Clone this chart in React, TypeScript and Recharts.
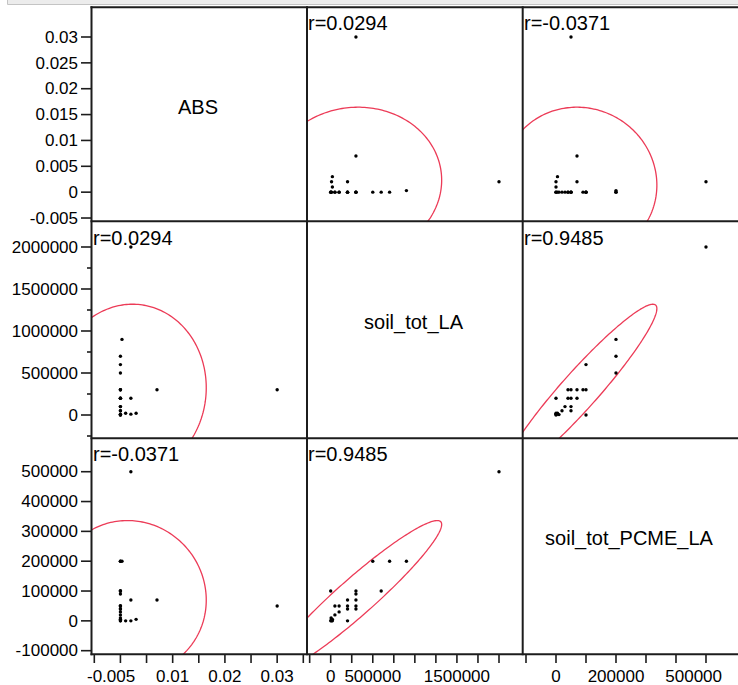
import React from 'react';
import { ScatterChart, Scatter, XAxis, YAxis } from 'recharts';

// ---------- data ----------
const VAR_NAMES = ['ABS', 'soil_tot_LA', 'soil_tot_PCME_LA'];

const ABS = [0.002, 0.0003, 0, 0, 0, 0, 0, 0, 0.007, 0.03, 0, 0.002, 0, 0, 0, 0, 0, 0, 0, 0.001, 0.002, 0.003, 0, 0, 0];
const SOIL_TOT_LA = [2000000, 900000, 700000, 500000, 600000, 0, 300000, 300000, 300000, 300000, 300000, 200000, 200000, 200000, 200000, 100000, 50000, 100000, 50000, 20000, 10000, 20000, 0, 10000, 5000];
const SOIL_TOT_PCME_LA = [500000, 200000, 200000, 200000, 100000, 100000, 100000, 90000, 70000, 50000, 40000, 70000, 50000, 40000, 0, 50000, 50000, 30000, 20000, 0, 0, 5000, 0, 5000, 10000];

const R_ABS_LA = 0.0294;
const R_ABS_PCME = -0.0371;
const R_LA_PCME = 0.9485;

const ABS_Y_TICKS = [-0.005, 0, 0.005, 0.01, 0.015, 0.02, 0.025, 0.03];
const ABS_Y_LABELS = [-0.005, 0, 0.005, 0.01, 0.015, 0.02, 0.025, 0.03];
const ABS_X_TICKS = [-0.005, 0, 0.005, 0.01, 0.015, 0.02, 0.025, 0.03, 0.035];
const ABS_X_LABELS = [-0.005, 0.01, 0.02, 0.03];
const ABS_X_DOMAIN = [-0.00544, 0.03571];
const ABS_Y_DOMAIN = [-0.00577, 0.0358];

const LA_TICKS = [-250000, 0, 250000, 500000, 750000, 1000000, 1250000, 1500000, 1750000, 2000000];
const LA_Y_LABELS = [0, 500000, 1000000, 1500000, 2000000];
const LA_X_LABELS = [0, 500000, 1500000];
const LA_X_DOMAIN = [-281600, 2285200];
const LA_Y_DOMAIN = [-273800, 2297600];

const PCME_TICKS = [-100000, 0, 100000, 200000, 300000, 400000, 500000];
const PCME_Y_LABELS = [-100000, 0, 100000, 200000, 300000, 400000, 500000];
const PCME_X_LABELS = [0, 200000, 500000];
const PCME_X_DOMAIN = [-110000, 606700];
const PCME_Y_DOMAIN = [-111100, 613000];

const ELLIPSE_COVERAGE = 0.95;

// ---------- layout ----------
const COL_X = [92, 307, 523, 738];
const ROW_Y = [7, 222, 438, 654];
const X_AXIS_H = 31;
const PAD = 12;
const FONT = "'Liberation Sans', Arial, Helvetica, sans-serif";
const RED = '#ec3b57';
const INK = '#1c1c1c';

const VARS = [
  { name: VAR_NAMES[0], values: ABS, xTicks: ABS_X_TICKS, xLabels: ABS_X_LABELS, yTicks: ABS_Y_TICKS, yLabels: ABS_Y_LABELS, xDomain: ABS_X_DOMAIN, yDomain: ABS_Y_DOMAIN },
  { name: VAR_NAMES[1], values: SOIL_TOT_LA, xTicks: LA_TICKS, xLabels: LA_X_LABELS, yTicks: LA_TICKS, yLabels: LA_Y_LABELS, xDomain: LA_X_DOMAIN, yDomain: LA_Y_DOMAIN },
  { name: VAR_NAMES[2], values: SOIL_TOT_PCME_LA, xTicks: PCME_TICKS, xLabels: PCME_X_LABELS, yTicks: PCME_TICKS, yLabels: PCME_Y_LABELS, xDomain: PCME_X_DOMAIN, yDomain: PCME_Y_DOMAIN },
];

const R = [
  [1, R_ABS_LA, R_ABS_PCME],
  [R_ABS_LA, 1, R_LA_PCME],
  [R_ABS_PCME, R_LA_PCME, 1],
];

const mean = (a: number[]) => a.reduce((s, v) => s + v, 0) / a.length;
const sd = (a: number[]) => {
  const m = mean(a);
  return Math.sqrt(a.reduce((s, v) => s + (v - m) * (v - m), 0) / a.length);
};

// density ellipse of the bivariate normal fitted to the data
function ellipsePoints(xs: number[], ys: number[], r: number) {
  const mx = mean(xs), my = mean(ys), sx = sd(xs), sy = sd(ys);
  const c = Math.sqrt(-2 * Math.log(1 - ELLIPSE_COVERAGE));
  const k = Math.sqrt(1 - r * r);
  const pts: { x: number; y: number }[] = [];
  const N = 240;
  for (let i = 0; i <= N; i++) {
    const t = (2 * Math.PI * i) / N;
    pts.push({ x: mx + c * sx * Math.cos(t), y: my + c * sy * (r * Math.cos(t) + k * Math.sin(t)) });
  }
  return pts;
}

const textWidth = (s: string, size: number) => {
  let w = 0;
  for (const ch of s) w += ch === '.' ? 0.278 : ch === '-' ? 0.333 : 0.556;
  return w * size;
};

const TICK_FONT = 17;

function YTick(props: any) {
  const { x, y, payload, labels } = props;
  const labeled = labels.includes(payload.value);
  return (
    <g>
      <line x1={x - (labeled ? 11 : 5)} x2={x} y1={y} y2={y} stroke={INK} strokeWidth={1.6} />
      {labeled && (
        <text x={x - 14} y={y} dy="0.34em" textAnchor="end" fontSize={TICK_FONT} fontFamily={FONT} fill="#000">
          {String(payload.value)}
        </text>
      )}
    </g>
  );
}

function XTick(props: any) {
  const { x, y, payload, labels, chartLeft } = props;
  const labeled = labels.includes(payload.value);
  const label = String(payload.value);
  let cx = x;
  if (labeled) {
    const w = textWidth(label, TICK_FONT);
    const pageMin = 87 - chartLeft;
    const pageMax = 722 - chartLeft;
    if (cx - w / 2 < pageMin) cx = pageMin + w / 2;
    if (cx + w / 2 > pageMax) cx = pageMax - w / 2;
  }
  return (
    <g>
      <line x1={x} x2={x} y1={y} y2={y + 9} stroke={INK} strokeWidth={1.6} />
      {labeled && (
        <text x={cx} y={y + 27.5} textAnchor="middle" fontSize={TICK_FONT} fontFamily={FONT} fill="#000">
          {label}
        </text>
      )}
    </g>
  );
}

const NoShape = () => <g />;
const Dot = (p: any) => <circle cx={p.cx} cy={p.cy} r={1.7} fill="#000" />;

function Cell({ row, col }: { row: number; col: number }) {
  const xv = VARS[col];
  const yv = VARS[row];
  const left = col === 0 ? 0 : COL_X[col];
  const plotW = COL_X[col + 1] - COL_X[col];
  const plotH = ROW_Y[row + 1] - ROW_Y[row];
  const yAxisW = col === 0 ? COL_X[0] : 0;
  const xAxisH = row === 2 ? X_AXIS_H : 0;
  const pad = col === 0 ? PAD : 0;
  const width = plotW + yAxisW;
  const height = plotH + xAxisH + 2 * pad;
  const diag = row === col;
  const points = diag ? [] : xv.values.map((v, i) => ({ x: v, y: yv.values[i] }));
  const ell = diag ? [] : ellipsePoints(xv.values, yv.values, R[row][col]);
  return (
    <div style={{ position: 'absolute', left, top: ROW_Y[row] - pad, width, height }}>
      <ScatterChart width={width} height={height} margin={{ top: pad, right: 0, bottom: pad, left: 0 }}>
        <XAxis
          type="number"
          dataKey="x"
          domain={xv.xDomain}
          allowDataOverflow
          ticks={xv.xTicks}
          interval={0}
          hide={row !== 2}
          height={row === 2 ? X_AXIS_H : undefined}
          axisLine={false}
          tickLine={false}
          tickSize={0}
          tickMargin={0}
          tick={(p: any) => <XTick {...p} labels={xv.xLabels} chartLeft={left} />}
        />
        <YAxis
          type="number"
          dataKey="y"
          domain={yv.yDomain}
          allowDataOverflow
          ticks={yv.yTicks}
          interval={0}
          hide={col !== 0}
          width={col === 0 ? yAxisW : undefined}
          axisLine={false}
          tickLine={false}
          tickSize={0}
          tickMargin={0}
          tick={(p: any) => <YTick {...p} labels={yv.yLabels} />}
        />
        {!diag && (
          <Scatter
            data={ell}
            line={{ stroke: RED, strokeWidth: 1.3 }}
            lineType="joint"
            shape={NoShape}
            isAnimationActive={false}
          />
        )}
        {!diag && <Scatter data={points} shape={Dot} isAnimationActive={false} />}
      </ScatterChart>
    </div>
  );
}

export default function App() {
  const cells: React.ReactNode[] = [];
  for (let r = 0; r < 3; r++) for (let c = 0; c < 3; c++) {
    if (r === c && r === 1) continue;
    cells.push(<Cell key={`${r}-${c}`} row={r} col={c} />);
  }
  return (
    <div style={{ position: 'absolute', left: 0, top: 0, width: 738, height: 685, background: '#fff', overflow: 'hidden' }}>
      {cells}
      <svg width={738} height={685} style={{ position: 'absolute', left: 0, top: 0, pointerEvents: 'none' }}>
        <rect x={7} y={0} width={731} height={4} fill="#ececec" />
        <line x1={7.5} x2={7.5} y1={0} y2={4.5} stroke="#c4c4c4" strokeWidth={1} />
        <line x1={7.5} x2={738} y1={4.5} y2={4.5} stroke="#c4c4c4" strokeWidth={1} />
        {[91.5, 307, 522.7].map((x) => (
          <line key={`v${x}`} x1={x} x2={x} y1={6.3} y2={655.3} stroke={INK} strokeWidth={2} />
        ))}
        {[7.3, 221.3, 438.3, 654.3].map((y) => (
          <line key={`h${y}`} x1={90.5} x2={738} y1={y} y2={y} stroke={INK} strokeWidth={2} />
        ))}
        {VARS.map((v, i) => (
          <text
            key={v.name}
            x={(COL_X[i] + COL_X[i + 1]) / 2 - 1.5}
            y={(ROW_Y[i] + ROW_Y[i + 1]) / 2 - 1}
            textAnchor="middle"
            fontSize={20}
            fontFamily={FONT}
            fill="#000"
          >
            {v.name}
          </text>
        ))}
        {[0, 1, 2].flatMap((r) =>
          [0, 1, 2]
            .filter((c) => c !== r)
            .map((c) => (
              <text key={`r${r}${c}`} x={COL_X[c] + 1} y={ROW_Y[r] + 23} fontSize={20} fontFamily={FONT} fill="#000">
                {`r=${R[r][c]}`}
              </text>
            ))
        )}
      </svg>
    </div>
  );
}
